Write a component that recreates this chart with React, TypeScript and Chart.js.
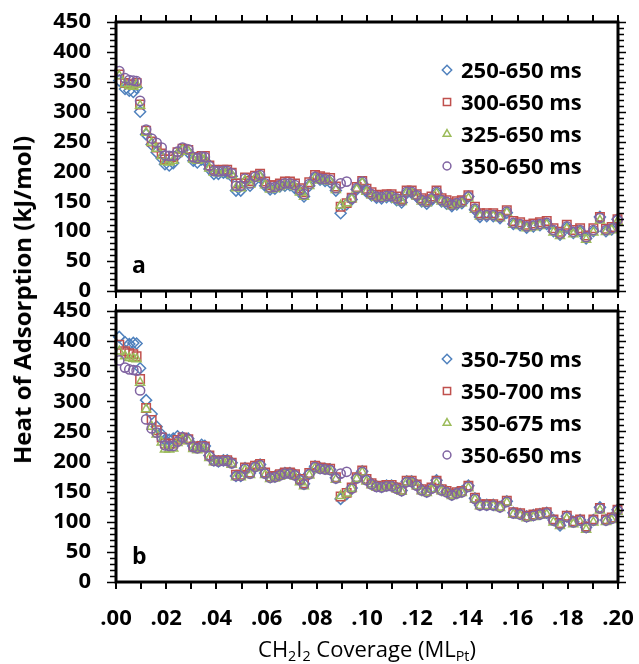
import React, { useEffect, useRef } from "react";
import { Chart, registerables } from "chart.js";
import { drawPoint } from "chart.js/helpers";

Chart.register(...registerables);

// ---------- DATA ----------
const coverage = [
  0.0013, 0.0036, 0.0053, 0.0069, 0.0082, 0.0096, 0.012, 0.0142, 0.0162, 0.0182,
  0.0195, 0.0212, 0.0228, 0.0245, 0.0265, 0.0288, 0.0308, 0.0324, 0.0341, 0.0354,
  0.0372, 0.039, 0.0408, 0.0428, 0.0443, 0.0461, 0.0478, 0.0497, 0.0514, 0.0534,
  0.0554, 0.0574, 0.0594, 0.0614, 0.0633, 0.0653, 0.0673, 0.0693, 0.0713, 0.0733,
  0.0749, 0.077, 0.0793, 0.0813, 0.0833, 0.0853, 0.0876, 0.0895, 0.0919, 0.0939,
  0.0959, 0.0981, 0.0998, 0.1018, 0.1038, 0.1058, 0.1078, 0.1098, 0.1118, 0.1138,
  0.1158, 0.1178, 0.1198, 0.1218, 0.1238, 0.1257, 0.1277, 0.1297, 0.1317, 0.1338,
  0.1358, 0.1378, 0.1404, 0.143, 0.145, 0.1477, 0.1503, 0.153, 0.1557, 0.1583,
  0.161, 0.1636, 0.1663, 0.1689, 0.1716, 0.1743, 0.1769, 0.1796, 0.1822, 0.1849,
  0.1873, 0.1902, 0.1928, 0.1952, 0.1975, 0.1998,
];

// shared series (appears in both panels)
const heat_350_650 = [
  368, 356, 353, 352, 351, 318, 270, 255, 248, 240,
  227, 226, 226, 233, 240, 237, 224, 222, 225, 224,
  209, 201, 200, 201, 201, 197, 176, 176, 188, 180,
  191, 194, 180, 173, 174, 177, 180, 180, 177, 169,
  162, 179, 191, 188, 187, 186, 172, 180, 183, 155,
  172, 183, 169, 162, 158, 157, 159, 159, 155, 151,
  166, 166, 160, 152, 149, 155, 166, 152, 149, 144,
  147, 149, 158, 138, 127, 127, 127, 124, 133, 114,
  112, 108, 110, 112, 114, 102, 96, 108, 99, 102,
  90, 102, 122, 102, 105, 119,
];

// panel a
const heat_250_650 = [
  352, 338, 335, 333, 340, 300, 262, 245, 232, 222,
  212, 210, 214, 228, 236, 232, 218, 215, 220, 218,
  204, 196, 196, 198, 197, 192, 168, 168, 182, 176,
  186, 190, 176, 170, 171, 175, 176, 177, 172, 165,
  158, 176, 190, 186, 184, 182, 168, 130, 145, 153,
  170, 180, 166, 160, 156, 155, 157, 157, 152, 148,
  164, 164, 158, 150, 146, 152, 164, 150, 146, 142,
  145, 147, 158, 136, 124, 125, 125, 122, 131, 112,
  110, 106, 108, 110, 112, 100, 94, 106, 97, 100,
  88, 100, 124, 100, 103, 120,
];
const heat_300_650 = [
  362, 348, 346, 345, 348, 312, 268, 250, 240, 230,
  220, 220, 224, 232, 238, 236, 224, 223, 226, 226,
  210, 203, 202, 203, 203, 198, 180, 180, 190, 184,
  193, 196, 183, 177, 177, 180, 183, 183, 180, 172,
  165, 182, 194, 192, 190, 189, 175, 141, 147, 156,
  174, 184, 171, 165, 161, 160, 162, 162, 158, 154,
  168, 168, 162, 155, 152, 158, 168, 155, 152, 147,
  150, 152, 160, 141, 130, 130, 130, 127, 135, 117,
  115, 111, 113, 115, 117, 105, 99, 111, 102, 105,
  93, 105, 124, 104, 107, 120,
];
const heat_325_650 = [
  360, 346, 343, 342, 345, 310, 265, 248, 238, 226,
  216, 215, 218, 230, 236, 233, 220, 218, 222, 220,
  205, 198, 197, 198, 198, 194, 172, 172, 185, 178,
  188, 191, 177, 170, 171, 174, 177, 177, 174, 165,
  158, 176, 188, 185, 184, 183, 169, 143, 147, 154,
  170, 181, 166, 160, 156, 155, 157, 157, 153, 149,
  164, 164, 158, 150, 147, 153, 163, 150, 147, 142,
  145, 147, 155, 136, 125, 125, 125, 122, 131, 111,
  109, 105, 107, 109, 111, 98, 92, 104, 95, 98,
  86, 98, 118, 99, 102, 116,
];

// panel b
const heat_350_750 = [
  407, 398, 395, 397, 396, 355, 302, 279, 258, 245,
  236, 236, 238, 242, 240, 238, 226, 224, 228, 226,
  210, 202, 200, 202, 202, 198, 176, 176, 189, 181,
  192, 195, 181, 174, 175, 178, 181, 181, 178, 170,
  163, 180, 192, 189, 188, 187, 173, 138, 146, 156,
  173, 184, 170, 163, 159, 158, 160, 160, 156, 152,
  167, 167, 161, 153, 150, 156, 169, 153, 150, 145,
  148, 150, 160, 139, 128, 128, 128, 125, 134, 115,
  113, 109, 111, 113, 115, 103, 94, 109, 100, 103,
  91, 103, 124, 103, 106, 120,
];
const heat_350_700 = [
  394, 383, 380, 378, 375, 337, 289, 269, 252, 240,
  230, 229, 230, 236, 240, 237, 225, 223, 226, 225,
  210, 202, 201, 202, 202, 198, 178, 178, 190, 182,
  193, 196, 182, 175, 176, 179, 182, 182, 179, 171,
  164, 181, 193, 190, 189, 188, 174, 142, 148, 157,
  174, 185, 171, 164, 160, 159, 161, 161, 157, 153,
  168, 168, 162, 154, 151, 157, 168, 154, 151, 146,
  149, 151, 160, 140, 129, 129, 129, 126, 135, 116,
  114, 110, 112, 114, 116, 104, 98, 110, 101, 104,
  92, 104, 123, 104, 107, 120,
];
const heat_350_675 = [
  383, 375, 372, 371, 370, 331, 287, 258, 245, 232,
  220, 220, 222, 231, 237, 234, 221, 219, 223, 221,
  206, 199, 198, 199, 199, 195, 174, 174, 186, 178,
  189, 192, 178, 171, 172, 175, 178, 178, 175, 166,
  159, 177, 189, 186, 185, 184, 170, 143, 147, 155,
  171, 182, 167, 161, 157, 156, 158, 158, 154, 150,
  165, 165, 159, 151, 148, 154, 164, 151, 148, 143,
  146, 148, 156, 137, 126, 126, 126, 123, 132, 112,
  110, 106, 108, 110, 112, 99, 93, 105, 96, 99,
  87, 99, 119, 100, 103, 117,
];

const labelsA = ["250-650 ms", "300-650 ms", "325-650 ms", "350-650 ms"];
const labelsB = ["350-750 ms", "350-700 ms", "350-675 ms", "350-650 ms"];
const xTickValues = [0, 0.01, 0.02, 0.03, 0.04, 0.05, 0.06, 0.07, 0.08, 0.09, 0.1,
  0.11, 0.12, 0.13, 0.14, 0.15, 0.16, 0.17, 0.18, 0.19, 0.2];
const Y_MAX = 450;

// ---------- STYLE ----------
const COLORS = ["#4f81bd", "#c0504d", "#9bbb59", "#8064a2"];
const STYLES = ["rectRot", "rect", "triangle", "circle"];
const RADII = [5.5, 6, 5.2, 4.6];
const FONT = '"Open Sans", "DejaVu Sans", sans-serif';

function makeDatasets(series: number[][], labels: string[]) {
  return series.map((vals, i) => ({
    label: labels[i],
    data: coverage.map((x, j) => ({ x, y: vals[j] })),
    pointStyle: STYLES[i],
    pointRadius: RADII[i],
    pointBorderWidth: 1.5,
    borderColor: COLORS[i],
    pointBorderColor: COLORS[i],
    backgroundColor: "rgba(0,0,0,0)",
    pointBackgroundColor: "rgba(0,0,0,0)",
    showLine: false,
    clip: false as any,
    order: 3 - i,
  }));
}

const framePlugin = {
  id: "frame",
  afterDatasetsDraw(chart: any, _args: any, opts: any) {
    const { ctx, chartArea } = chart;
    const { left, right, top, bottom } = chartArea;
    const xs = chart.scales.x;
    const ys = chart.scales.y;
    ctx.save();
    ctx.strokeStyle = "#000";
    ctx.lineCap = "butt";
    // x ticks (top and bottom, outward)
    ctx.lineWidth = 2;
    ctx.beginPath();
    for (const v of xTickValues) {
      const px = Math.round(xs.getPixelForValue(v));
      ctx.moveTo(px, top);
      ctx.lineTo(px, top - 7);
      ctx.moveTo(px, bottom);
      ctx.lineTo(px, bottom + 7);
    }
    ctx.stroke();
    // y ticks (left and right, outward, minor every 10)
    ctx.lineWidth = 1.6;
    ctx.beginPath();
    for (let v = 0; v <= Y_MAX; v += 10) {
      const py = Math.round(ys.getPixelForValue(v)) + 0.5;
      const major = v % 50 === 0;
      ctx.moveTo(left - (major ? 9 : 6), py);
      ctx.lineTo(left, py);
      ctx.moveTo(right, py);
      ctx.lineTo(right + (major ? 8 : 6), py);
    }
    ctx.stroke();
    // frame
    ctx.lineWidth = 3;
    ctx.strokeRect(left, top, right - left, bottom - top);

    // panel letter
    ctx.fillStyle = "#000";
    ctx.font = `bold 23px ${FONT}`;
    ctx.textAlign = "left";
    ctx.textBaseline = "alphabetic";
    ctx.fillText(opts.letter, left + 16, bottom - 18);

    // legend
    const rows = [48, 80, 112, 144];
    ctx.font = `bold 22px ${FONT}`;
    opts.labels.forEach((lab: string, i: number) => {
      const cy = top + rows[i];
      ctx.strokeStyle = COLORS[i];
      ctx.fillStyle = "rgba(0,0,0,0)";
      ctx.lineWidth = 1.5;
      drawPoint(ctx, { pointStyle: STYLES[i], radius: RADII[i] * 0.85, rotation: 0, borderWidth: 1.5 } as any, right - 171, cy);
      ctx.fillStyle = "#000";
      ctx.fillText(lab, right - 157, cy + 8);
    });
    ctx.restore();
  },
};

function buildConfig(series: number[][], labels: string[], letter: string, showX: boolean, pad: any, xHeight: number) {
  return {
    type: "scatter" as const,
    data: { datasets: makeDatasets(series, labels) },
    options: {
      animation: false as const,
      responsive: false,
      devicePixelRatio: 1,
      layout: { padding: pad },
      events: [],
      plugins: {
        legend: { display: false },
        tooltip: { enabled: false },
        frame: { letter, labels },
      },
      scales: {
        x: {
          type: "linear" as const,
          min: 0,
          max: 0.2,
          display: showX,
          grid: { display: false, drawTicks: false },
          border: { display: false },
          ticks: {
            stepSize: 0.02,
            autoSkip: false,
            maxRotation: 0,
            padding: 24,
            color: "#000",
            font: { family: FONT, size: 22, weight: "bold" as const },
            callback: (v: any) => Number(v).toFixed(2).replace(/^0/, ""),
          },
          afterFit: (s: any) => {
            s.height = xHeight;
            s.paddingLeft = 0;
            s.paddingRight = 0;
          },
        },
        y: {
          type: "linear" as const,
          min: 0,
          max: Y_MAX,
          grid: { display: false, drawTicks: false },
          border: { display: false },
          ticks: {
            stepSize: 50,
            padding: 25,
            color: "#000",
            font: { family: FONT, size: 22, weight: "bold" as const },
          },
          afterFit: (s: any) => {
            s.width = 116;
            s.paddingTop = 0;
            s.paddingBottom = 0;
          },
        },
      },
    },
    plugins: [framePlugin],
  };
}

function Panel(props: { series: number[][]; labels: string[]; letter: string; showX: boolean; top: number; height: number; pad: any; xHeight: number }) {
  const ref = useRef<HTMLCanvasElement>(null);
  useEffect(() => {
    if (!ref.current) return;
    const chart = new Chart(ref.current, buildConfig(props.series, props.labels, props.letter, props.showX, props.pad, props.xHeight) as any);
    return () => chart.destroy();
  }, []);
  return (
    <canvas
      ref={ref}
      width={639}
      height={props.height}
      style={{ position: "absolute", left: 0, top: props.top, width: 639, height: props.height }}
    />
  );
}

export default function App() {
  return (
    <div style={{ position: "absolute", left: 0, top: 0, width: 639, height: 664, background: "#fff", overflow: "hidden" }}>
      <Panel
        series={[heat_250_650, heat_300_650, heat_325_650, heat_350_650]}
        labels={labelsA}
        letter="a"
        showX={false}
        top={0}
        height={300}
        pad={{ top: 22, bottom: 9, right: 21, left: 0 }}
        xHeight={0}
      />
      <Panel
        series={[heat_350_750, heat_350_700, heat_350_675, heat_350_650]}
        labels={labelsB}
        letter="b"
        showX={true}
        top={300}
        height={364}
        pad={{ top: 11, bottom: 0, right: 21, left: 0 }}
        xHeight={82}
      />
      <div
        style={{
          position: "absolute",
          left: 22,
          top: 300,
          transform: "translate(-50%, -50%) rotate(-90deg)",
          whiteSpace: "nowrap",
          font: `bold 24px ${FONT}`,
          color: "#000",
          lineHeight: 1,
        }}
      >
        Heat of Adsorption (kJ/mol)
      </div>
      <div
        style={{
          position: "absolute",
          left: 367,
          top: 648,
          transform: "translate(-50%, -50%)",
          whiteSpace: "nowrap",
          font: `22px ${FONT}`,
          color: "#000",
          lineHeight: 1,
        }}
      >
        CH<sub style={{ fontSize: "0.65em", verticalAlign: "-0.3em", lineHeight: 0 }}>2</sub>I
        <sub style={{ fontSize: "0.65em", verticalAlign: "-0.3em", lineHeight: 0 }}>2</sub> Coverage (ML
        <sub style={{ fontSize: "0.65em", verticalAlign: "-0.3em", lineHeight: 0 }}>Pt</sub>)
      </div>
    </div>
  );
}
